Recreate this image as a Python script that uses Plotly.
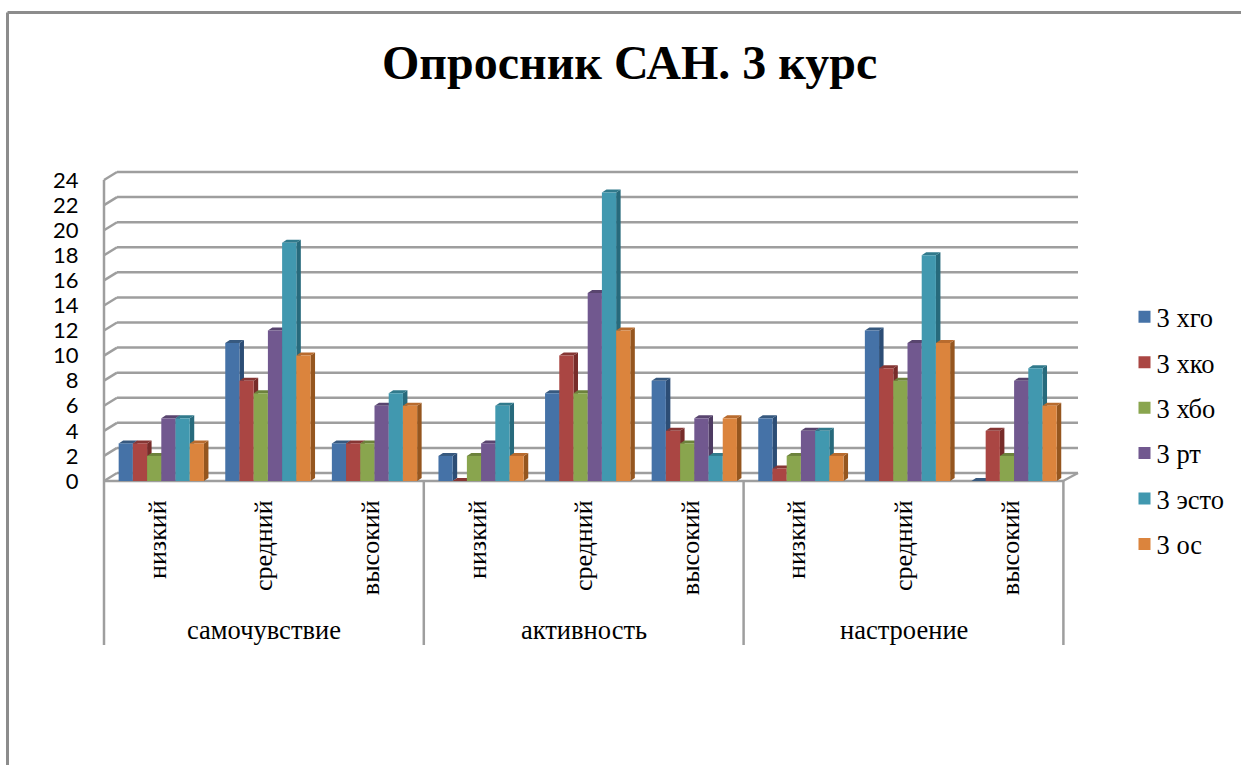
import plotly.graph_objects as go

title = "Опросник САН. 3 курс"
groups = ["самочувствие", "активность", "настроение"]
levels = ["низкий", "средний", "высокий"]
y_ticks = list(range(0, 25, 2))

series_names = ["3 хго", "3 хко", "3 хбо", "3 рт", "3 эсто", "3 ос"]
hgo = [3, 11, 3, 2, 7, 8, 5, 12, 0]
hko = [3, 8, 3, 0, 10, 4, 1, 9, 4]
hbo = [2, 7, 3, 2, 7, 3, 2, 8, 2]
rt = [5, 12, 6, 3, 15, 5, 4, 11, 8]
esto = [5, 19, 7, 6, 23, 2, 4, 18, 9]
os_ = [3, 10, 6, 2, 12, 5, 2, 11, 6]
series_values = [hgo, hko, hbo, rt, esto, os_]

front_colors = ["#4572A7", "#AA4643", "#89A54E", "#71588F", "#4198AF", "#DB843D"]
top_colors = ["#37597F", "#863634", "#6C823C", "#59456F", "#317A8C", "#B86B2E"]
side_colors = ["#2C4D75", "#772C2A", "#5F7530", "#4D3B62", "#276A7C", "#95561F"]
GRID = "#9E9E9E"
FRAME = "#8C8C8C"
SERIF = "Liberation Serif"

# Plot geometry in pixels
W, H = 1241, 765
L, R, T, B = 104, 1078, 172, 481
PX_X = 106.6            # pixels per category
PX_Y = 12.54            # pixels per y unit
DX, DY = 4.5, 3         # bar depth in pixels
WALL_DX, WALL_DY = 13, 8  # chart wall depth in pixels
BAR_SHIFT = 4 / PX_X
GAP = 0.2
BAR_W = (1 - GAP) / len(series_names)


def px(x):
    return (x - L) / (R - L)


def py(y):
    return (B - y) / (B - T)


def paper_line(x0, y0, x1, y1, color=GRID, width=2.5):
    return dict(type="line", xref="paper", yref="paper", layer="below",
                x0=px(x0), y0=py(y0), x1=px(x1), y1=py(y1),
                line=dict(color=color, width=width))


shapes = []
# outer frame
shapes.append(paper_line(7.5, 12.5, 1241, 12.5, FRAME, 3))
shapes.append(paper_line(7.5, 12.5, 7.5, 765, FRAME, 3))
# wall grid
for v in y_ticks:
    yf = B - v * PX_Y
    shapes.append(paper_line(L, yf, L + WALL_DX, yf - WALL_DY))
    shapes.append(paper_line(L + WALL_DX, yf - WALL_DY, R, yf - WALL_DY))
# side wall, floor edge, separators
shapes.append(paper_line(L, B - 24 * PX_Y, L, 645))
shapes.append(paper_line(L, B, 1063, B))
shapes.append(paper_line(1063, B, R, B - WALL_DY))
for k in range(1, 4):
    sx = L + k * 3 * PX_X
    shapes.append(paper_line(sx, B, sx, 645))

# depth faces of the bars, computed from the data
ddx, ddy = DX / PX_X, DY / PX_Y
for s, vals in enumerate(series_values):
    for i, v in enumerate(vals):
        x0 = i + BAR_SHIFT + (s - len(series_names) / 2) * BAR_W
        x1 = x0 + BAR_W
        shapes.append(dict(type="path", layer="below", xref="x", yref="y", line=dict(width=0),
                           fillcolor=side_colors[s],
                           path=f"M{x1},0 L{x1 + ddx},{ddy} L{x1 + ddx},{v + ddy} L{x1},{v} Z"))
        shapes.append(dict(type="path", layer="below", xref="x", yref="y", line=dict(width=0),
                           fillcolor=top_colors[s],
                           path=f"M{x0},{v} L{x0 + ddx},{v + ddy} L{x1 + ddx},{v + ddy} L{x1},{v} Z"))

fig = go.Figure()
xs = [i + BAR_SHIFT for i in range(len(hgo))]
for s, name in enumerate(series_names):
    fig.add_trace(go.Bar(x=xs, y=series_values[s], name=name, legendgroup=name,
                         marker=dict(color=front_colors[s], line=dict(width=0))))

annotations = [dict(text=g, xref="x", yref="paper", x=3 * k + 1, y=py(630), showarrow=False,
                    font=dict(family=SERIF, size=26.5, color="#000000"), xanchor="center", yanchor="middle")
               for k, g in enumerate(groups)]
annotations.append(dict(text=f"<b>{title}</b>", xref="paper", yref="paper", x=px(629), y=py(62),
                        showarrow=False, xanchor="center", yanchor="middle",
                        font=dict(family=SERIF, size=48, color="#000000")))

fig.update_layout(
    width=W, height=H, autosize=False,
    margin=dict(l=L, r=W - R, t=T, b=H - B, pad=0),
    paper_bgcolor="#FFFFFF", plot_bgcolor="rgba(0,0,0,0)",
    barmode="group", bargap=GAP, bargroupgap=0,
    shapes=shapes, annotations=annotations,
    showlegend=True,
    legend=dict(xref="container", yref="container", x=1124.5 / W, y=1 - 293 / H,
                xanchor="left", yanchor="top", tracegroupgap=8,
                traceorder="grouped",
                font=dict(family=SERIF, size=26.5, color="#000000"),
                bgcolor="rgba(0,0,0,0)", itemclick=False, itemdoubleclick=False),
    xaxis=dict(range=[-0.5, -0.5 + (R - L) / PX_X], tickmode="array",
               tickvals=list(range(9)), ticktext=levels * 3, tickangle=-90,
               ticks="outside", ticklen=8, tickcolor="rgba(0,0,0,0)", showgrid=False, zeroline=False,
               showline=False, tickfont=dict(family=SERIF, size=26, color="#000000")),
    yaxis=dict(range=[0, (B - T) / PX_Y], tickmode="array", tickvals=y_ticks,
               ticks="outside", ticklen=20, tickcolor="rgba(0,0,0,0)", showgrid=False, zeroline=False,
               showline=False, tickfont=dict(family="Lato", size=22, color="#000000")),
)

post = """
document.body.style.margin='0';document.body.style.overflow='hidden';
document.querySelectorAll('.legend .legendtext').forEach(function(t){t.setAttribute('x', parseFloat(t.getAttribute('x'))-8);});
"""
fig.write_html("out.html", post_script=post, config={"displayModeBar": False, "responsive": False})
